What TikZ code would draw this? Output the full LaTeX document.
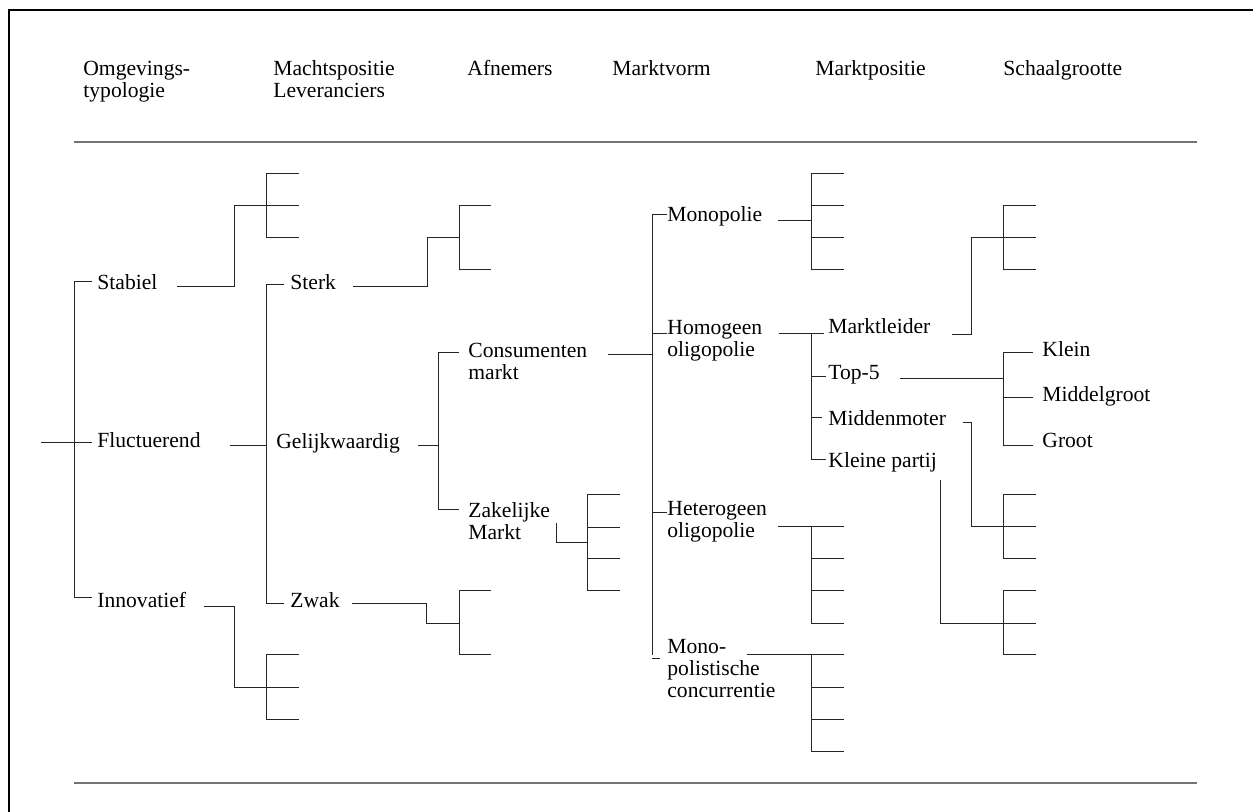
\documentclass[tikz,border=0pt]{standalone}
\usepackage{fontspec}
\setmainfont{Liberation Serif}
\usepackage{tikz}
\usetikzlibrary{positioning}

\begin{document}
\begin{tikzpicture}[
    x=0.5pt, y=-0.5pt,
    link/.style={draw=black!85, line width=0.5pt},
    rule/.style={draw=black!55, line width=0.9pt},
    lbl/.style={anchor=base west, inner sep=0pt, align=left, font=\fontsize{10.8}{11}\selectfont}
]
\useasboundingbox (0,0) rectangle (1253,812);
\begin{scope}
\clip (0,0) rectangle (1253,812);
\draw[line width=1.1pt] (9,830) |- (1270,10);
\end{scope}

% header (multi-line nodes sit on their last baseline)
\node[lbl] (typo) at (83,98) {Omgevings-\\typologie};
\node[lbl] (macht) at (273,98) {Machtspositie\\Leveranciers};
\node[lbl] (afn) at (467,76) {Afnemers};
\node[lbl] (vorm) at (612,76) {Marktvorm};
\node[lbl] (pos) at (815,76) {Marktpositie};
\node[lbl] (schaal) at (1003,76) {Schaalgrootte};
\draw[rule] (74,142) -- (1197,142);
\draw[rule] (74,783) -- (1197,783);

% omgeving
\node[lbl] (stab) at (97,290) {Stabiel};
\node[lbl] (fluc) at (97,448) {Fluctuerend};
\node[lbl] (innov) at (97,607) {Innovatief};
\draw[link] (41,443) -- (92,443);
\draw[link] (92,282) -- (74,282) -- (74,597) -- (92,597);
\draw[link] (177,287) -| (234,206) -- (299,206);
\draw[link] (299,174) -| (266,238) -- (299,238);
\draw[link] (204,606) -| (234,687) -- (299,687);
\draw[link] (299,654) -| (266,719) -- (299,719);

% leveranciers
\node[lbl] (sterk) at (290,290) {Sterk};
\node[lbl] (gelijk) at (276,449) {Gelijkwaardig};
\node[lbl] (zwak) at (290,607) {Zwak};
\draw[link] (284,285) -- (266,285) -- (266,603) -- (284,603);
\draw[link] (230,446) -- (266,446);
\draw[link] (353,287) -| (427,238) -- (459,238);
\draw[link] (491,206) -| (459,270) -- (491,270);
\draw[link] (352,603) -| (426,623) -- (459,623);
\draw[link] (491,590) -| (459,654) -- (491,654);
\draw[link] (418,446) -- (438,446);
\draw[link] (459,353) -| (438,509) -- (459,509);

% afnemers
\node[lbl] (cons) at (468,380) {Consumenten\\markt};
\node[lbl] (zak) at (468,539) {Zakelijke\\Markt};
\draw[link] (608,355) -- (652,355);
\draw[link] (556,523) |- (587,542);
\draw[link] (620,495) -| (587,590) -- (620,590);
\foreach \py in {527,558} \draw[link] (587,\py) -- (620,\py);

% marktvorm
\node[lbl] (mono) at (667,222) {Monopolie};
\node[lbl] (homo) at (667,357) {Homogeen\\oligopolie};
\node[lbl] (hetero) at (667,538) {Heterogeen\\oligopolie};
\node[lbl] (monop) at (667,697) {Mono-\\polistische\\concurrentie};
\draw[link] (667,215) -| (652,655);
\draw[link] (652,334) -- (667,334);
\draw[link] (652,512) -- (667,512);
\draw[link] (652,658) -- (660,658);
\draw[link] (778,221) -- (811,221);
\draw[link] (844,174) -| (811,270) -- (844,270);
\foreach \py in {206,238} \draw[link] (811,\py) -- (844,\py);
\draw[link] (778,526) -- (844,526);
\draw[link] (811,526) |- (844,623);
\foreach \py in {558,590} \draw[link] (811,\py) -- (844,\py);
\draw[link] (747,654) -- (844,654);
\draw[link] (811,654) |- (844,751);
\foreach \py in {687,719} \draw[link] (811,\py) -- (844,\py);
\draw[link] (779,334) -- (824,334);
\draw[link] (811,334) |- (826,460);
\draw[link] (811,377) -- (826,377);
\draw[link] (811,418) -- (822,418);

% marktpositie
\node[lbl] (leider) at (828,334) {Marktleider};
\node[lbl] (top) at (828,380) {Top-5};
\node[lbl] (midden) at (828,426) {Middenmoter};
\node[lbl] (kleinp) at (828,468) {Kleine partij};
\draw[link] (952,335) -| (971,238) -- (1036,238);
\draw[link] (1036,206) -| (1003,270) -- (1036,270);
\draw[link] (900,379) -- (1003,379);
\draw[link] (1033,353) -| (1003,446) -- (1033,446);
\draw[link] (1003,398) -- (1033,398);
\draw[link] (963,423) -| (971,526) -- (1036,526);
\draw[link] (1036,495) -| (1003,558) -- (1036,558);
\draw[link] (940,480) |- (1036,623);
\draw[link] (1036,590) -| (1003,654) -- (1036,654);

% schaalgrootte
\node[lbl] (klein) at (1042,357) {Klein};
\node[lbl] (middel) at (1042,402) {Middelgroot};
\node[lbl] (groot) at (1042,448) {Groot};
\end{tikzpicture}
\end{document}
